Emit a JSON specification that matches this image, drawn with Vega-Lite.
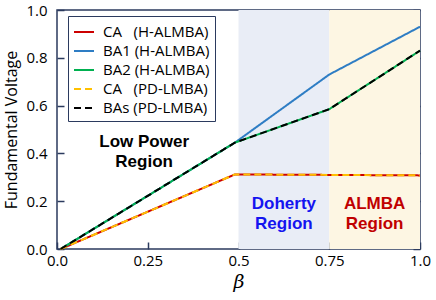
{
  "$schema": "https://vega.github.io/schema/vega-lite/v6.json",
  "width": 363,
  "height": 239,
  "autosize": {"type": "none"},
  "padding": {"left": 57, "top": 10, "right": 16, "bottom": 51},
  "config": {
    "view": {"stroke": "#2b3a5e", "strokeWidth": 1.5},
    "axis": {
      "grid": false,
      "zindex": 1,
      "domain": false,
      "offset": -7,
      "tickSize": 7,
      "tickColor": "#2b3a5e",
      "tickWidth": 1.5,
      "labelFont": "Open Sans",
      "labelFontSize": 15,
      "labelColor": "#000000",
      "titleFont": "Open Sans",
      "titleFontWeight": "normal",
      "titleColor": "#000000"
    }
  },
  "layer": [
    {
      "data": {"values": [
        {"x": 0.5, "x2": 0.75, "kind": "Doherty"},
        {"x": 0.75, "x2": 1.0, "kind": "ALMBA"}
      ]},
      "mark": {"type": "rect"},
      "encoding": {
        "x": {"field": "x", "type": "quantitative", "scale": {"domain": [0, 1], "nice": false},
          "axis": {"values": [0, 0.25, 0.5, 0.75, 1], "format": ".2~f",
            "labelExpr": "datum.value == 0 ? '0.0' : datum.value == 1 ? '1.0' : datum.label",
            "labelFlush": false, "labelPadding": 4,
            "title": "β", "titleFont": "DejaVu Serif", "titleFontStyle": "italic", "titleFontSize": 19, "titlePadding": 4}},
        "x2": {"field": "x2"},
        "fill": {"field": "kind", "type": "nominal",
          "scale": {"domain": ["Doherty", "ALMBA", "low", "doherty", "almba"], "range": ["#e9edf6", "#fdf6e3", "#000000", "#1414f0", "#c00000"]},
          "legend": null}
      }
    },
    {
      "data": {"values": [
        {"series": "CA\u00a0\u00a0\u00a0(H-ALMBA)", "x": 0.01, "y": 0},
        {"series": "CA\u00a0\u00a0\u00a0(H-ALMBA)", "x": 0.49, "y": 0.312},
        {"series": "CA\u00a0\u00a0\u00a0(H-ALMBA)", "x": 0.75, "y": 0.31},
        {"series": "CA\u00a0\u00a0\u00a0(H-ALMBA)", "x": 1.0, "y": 0.308},
        {"series": "BA1 (H-ALMBA)", "x": 0.01, "y": 0},
        {"series": "BA1 (H-ALMBA)", "x": 0.49, "y": 0.445},
        {"series": "BA1 (H-ALMBA)", "x": 0.75, "y": 0.73},
        {"series": "BA1 (H-ALMBA)", "x": 1.0, "y": 0.93},
        {"series": "BA2 (H-ALMBA)", "x": 0.01, "y": 0},
        {"series": "BA2 (H-ALMBA)", "x": 0.49, "y": 0.445},
        {"series": "BA2 (H-ALMBA)", "x": 0.75, "y": 0.585},
        {"series": "BA2 (H-ALMBA)", "x": 1.0, "y": 0.83},
        {"series": "CA\u00a0\u00a0\u00a0(PD-LMBA)", "x": 0.01, "y": 0},
        {"series": "CA\u00a0\u00a0\u00a0(PD-LMBA)", "x": 0.49, "y": 0.312},
        {"series": "CA\u00a0\u00a0\u00a0(PD-LMBA)", "x": 0.75, "y": 0.31},
        {"series": "CA\u00a0\u00a0\u00a0(PD-LMBA)", "x": 1.0, "y": 0.308},
        {"series": "BAs (PD-LMBA)", "x": 0.01, "y": 0},
        {"series": "BAs (PD-LMBA)", "x": 0.49, "y": 0.445},
        {"series": "BAs (PD-LMBA)", "x": 0.75, "y": 0.585},
        {"series": "BAs (PD-LMBA)", "x": 1.0, "y": 0.83}
      ]},
      "mark": {"type": "line", "strokeWidth": 2},
      "encoding": {
        "x": {"field": "x", "type": "quantitative"},
        "y": {"field": "y", "type": "quantitative", "scale": {"domain": [0, 1], "nice": false},
          "axis": {"values": [0, 0.2, 0.4, 0.6, 0.8, 1.0], "format": ".1f", "labelPadding": 10,
            "title": "Fundamental Voltage", "titleFontSize": 16, "titlePadding": 6}},
        "color": {"field": "series", "type": "nominal", "sort": null,
          "scale": {"domain": ["CA\u00a0\u00a0\u00a0(H-ALMBA)", "BA1 (H-ALMBA)", "BA2 (H-ALMBA)", "CA\u00a0\u00a0\u00a0(PD-LMBA)", "BAs (PD-LMBA)"],
            "range": ["#cc0000", "#2e7dc4", "#00b050", "#ffc000", "#000000"]},
          "legend": {"title": null, "orient": "none", "legendX": 11, "legendY": 6,
            "fillColor": "#ffffff", "strokeColor": "#2b3a5e", "padding": 5, "zindex": 2,
            "symbolType": "stroke", "symbolSize": 400, "symbolStrokeWidth": 2,
            "labelFont": "Open Sans", "labelFontSize": 15, "labelColor": "#000000", "labelOffset": 8, "rowPadding": 0}},
        "strokeDash": {"field": "series", "type": "nominal", "sort": null,
          "scale": {"domain": ["CA\u00a0\u00a0\u00a0(H-ALMBA)", "BA1 (H-ALMBA)", "BA2 (H-ALMBA)", "CA\u00a0\u00a0\u00a0(PD-LMBA)", "BAs (PD-LMBA)"],
            "range": [[1, 0], [1, 0], [1, 0], [7, 4], [7, 4]]},
          "legend": {"title": null, "orient": "none", "legendX": 11, "legendY": 6,
            "fillColor": "#ffffff", "strokeColor": "#2b3a5e", "padding": 5, "zindex": 2,
            "symbolType": "stroke", "symbolSize": 400, "symbolStrokeWidth": 2,
            "labelFont": "Open Sans", "labelFontSize": 15, "labelColor": "#000000", "labelOffset": 8, "rowPadding": 0}}
      }
    },
    {
      "data": {"values": [
        {"label": ["Low Power", "Region"], "x": 0.24, "y": 0.448, "kind": "low"},
        {"label": ["Doherty", "Region"], "x": 0.625, "y": 0.188, "kind": "doherty"},
        {"label": ["ALMBA", "Region"], "x": 0.875, "y": 0.188, "kind": "almba"}
      ]},
      "mark": {"type": "text", "font": "Liberation Sans", "fontWeight": "bold", "fontSize": 17, "lineHeight": 20, "align": "center", "baseline": "middle"},
      "encoding": {
        "x": {"field": "x", "type": "quantitative"},
        "y": {"field": "y", "type": "quantitative", "scale": {"domain": [0, 1], "nice": false},
          "axis": {"orient": "right", "values": [0, 0.2, 0.4, 0.6, 0.8, 1.0], "labels": false, "title": null}},
        "text": {"field": "label"},
        "fill": {"field": "kind", "type": "nominal", "legend": null}
      }
    }
  ],
  "resolve": {"scale": {"y": "independent"}, "axis": {"y": "independent"}}
}
